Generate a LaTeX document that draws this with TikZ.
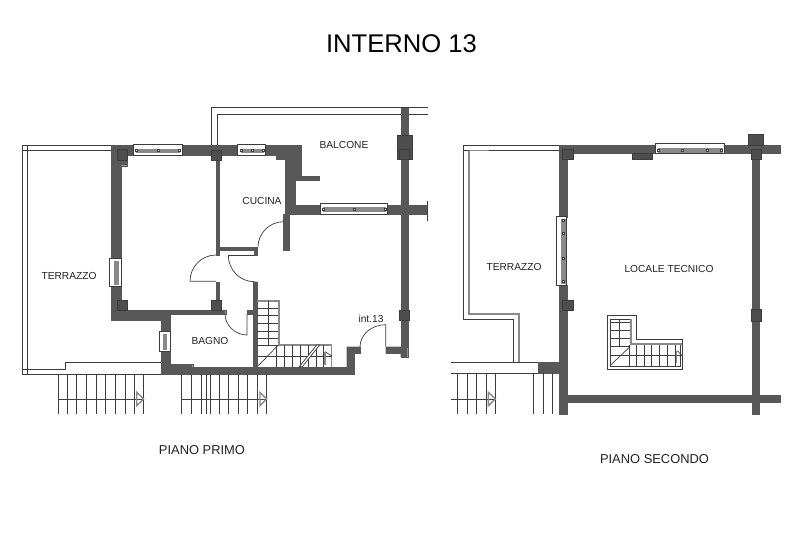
\documentclass[tikz,border=0pt]{standalone}
\usepackage{fontspec}
\setmainfont{Liberation Sans}
\tikzset{
x=1pt,
y=-1pt,
wallfill/.style={fill=wallgray, draw=wallgray, line width=0.3pt},
pillar/.style={fill=pillargray, draw=linegray, line width=0.4pt},
outline/.style={draw=linegray, line width=0.8pt},
railing/.style={draw=railgray, line width=1.4pt},
hairline/.style={draw=linegray, line width=0.7pt},
glass/.style={fill=white, draw=linegray, line width=0.7pt},
glassbar/.style={fill=railgray, draw=railgray, line width=0.4pt},
stud/.style={fill=white, draw=linegray, line width=0.4pt},
label/.style={text=textgray, font=\fontsize{10.2}{12}\selectfont, inner sep=0pt},
caption/.style={text=textgray, font=\fontsize{12.9}{15}\selectfont, inner sep=0pt},
}
\definecolor{wallgray}{HTML}{585858}
\definecolor{pillargray}{HTML}{4E4E4E}
\definecolor{linegray}{HTML}{3C3C3C}
\definecolor{railgray}{HTML}{8A8A8A}
\definecolor{textgray}{HTML}{222222}

\begin{document}
\begin{tikzpicture}
    \useasboundingbox (0,0) rectangle (800,533);

    \node[text=black, font=\fontsize{25.6}{28}\selectfont, inner sep=0pt] (title) at (401.5,44) {INTERNO 13};

    \draw[hairline] (111,145.7) -- (22.7,145.7) -- (22.7,374) -- (161,374);
    \draw[hairline] (111,150) -- (22.7,150);
    \draw[hairline] (27.3,145.7) -- (27.3,374);
    \draw[hairline] (22.7,369) -- (65,369) -- (65,362.3) -- (161,362.3);
    \draw[hairline] (211,145) -- (211,107.3) -- (428,107.3);
    \draw[hairline] (217,145) -- (217,114) -- (428,114);

    \fill[wallfill] (111,145) -- (301.3,145) -- (301.3,176) -- (319.3,176) -- (319.3,180.3) -- (295,180.3) -- (295,205) -- (427,205) -- (427,214.5) -- (289,214.5) -- (289,250) -- (283.3,250) -- (283.3,214.5) -- (285,214.5) -- (285,159.3) -- (276,159.3) -- (276,155) -- (127,155) -- (127,165.7) -- (121,165.7) -- (121,310) -- (225.7,310) -- (225.7,314) -- (170.3,314) -- (170.3,364) -- (192.7,364) -- (192.7,367.3) -- (253.3,367.3) -- (253.3,281.7) -- (257.3,281.7) -- (257.3,367.3) -- (346.7,367.3) -- (346.7,346.7) -- (360,346.7) -- (360,353.3) -- (354,353.3) -- (354,374) -- (161,374) -- (161,320) -- (111,320) -- cycle;
    \fill[wallfill] (401,108) rectangle (407.7,346.7);
    \fill[wallfill] (385.7,346.7) -- (407.7,346.7) -- (407.7,357.3) -- (400.7,357.3) -- (400.7,353.3) -- (385.7,353.3) -- cycle;
    \fill[wallfill] (215.7,155) rectangle (219.3,255);
    \fill[wallfill] (219.3,246.7) rectangle (257,250);
    \fill[wallfill] (253.7,250) rectangle (257,255);
    \fill[wallfill] (215.7,281.7) rectangle (219.3,300);
    \fill[wallfill] (247.3,310) rectangle (253.3,314);
    \foreach \xa/\ya/\xb/\yb in {116.7/149/127/160, 210.7/149.7/221/159.7, 396.7/135/411.7/159.3, 399/310/409/320, 116.7/300/126.7/310, 211/300/220.7/310} {
        \filldraw[pillar] (\xa,\ya) rectangle (\xb,\yb);
    }
    \draw[draw=linegray, line width=0.4pt] (399.3,149) rectangle (409,159.3);

    \foreach \xa/\ya/\xb/\yb/\xm in {133/144.7/182/155/158, 237.7/144.7/265.7/155/251.7, 320/203.5/387.7/214.5/354} {
        \draw[glass] (\xa,\ya) rectangle (\xb,\yb);
        \draw[glassbar] (\xa+3,\ya+4) rectangle (\xb-3,\ya+7.5);
        \foreach \xc in {\xa+3,\xm,\xb-3} {
            \draw[stud] (\xc-1,\ya+4.7) rectangle (\xc+1,\ya+6.7);
        }
    }
    \draw[glass] (109.3,258) rectangle (121.7,286.7);
    \draw[glassbar] (114.5,261) rectangle (118,283.7);
    \draw[glass] (159.3,331.7) rectangle (170,351.7);
    \draw[glassbar] (163.5,334) rectangle (166,349.5);
    \draw[draw=linegray, line width=0.4pt] (427,201) -- (427,221);

    \draw[hairline] (216,281.3) -- (190,281.3) .. controls (190,266.7) and (201.7,255) .. (216,255);
    \draw[hairline] (228.3,255) -- (254.3,255);
    \draw[hairline] (228.3,255) .. controls (228.3,270) and (240,281.7) .. (254.3,281.7);
    \draw[hairline] (258,246.7) .. controls (258,234) and (269,221.7) .. (283.3,221.7);
    \draw[hairline] (225,314) .. controls (225,325) and (235,335) .. (247,335) -- (247,314);
    \draw[hairline] (360,347) .. controls (360,334) and (372,324.7) .. (385.7,324.7) -- (385.7,346.7);

    \draw[railing] (257.3,301) -- (279,301) -- (279,345) -- (331.7,345) -- (331.7,367);
    \foreach \yc in {308.3,315.7,323.3,331,338.7} {
        \draw[hairline] (257.3,\yc) -- (278.3,\yc);
    }
    \draw[hairline] (268.3,301) -- (268.3,345);
    \draw[hairline] (257.3,345) -- (278.3,345);
    \draw[hairline] (258.3,365.7) -- (278.3,345);
    \foreach \xc in {276.7,284.7,292.3,300.7,308.3,316,323.3} {
        \draw[hairline] (\xc,345) -- (\xc,367);
    }
    \draw[hairline] (258,356) -- (331.7,356);
    \draw[fill=white, hairline] (299.3,366.7) -- (316.7,345) -- (319.7,345) -- (302.3,366.7) -- cycle;
    \draw[hairline] (325,351.7) -- (331.7,356);
    \draw[railing] (325,351.7) -- (325,365);

    \foreach \xc in {58.3,67.3,76.7,86.3,96,105.7,115.3,125,134,143.7, 181.7,191.3,201,206.7,210.7,219,228.3,238.3,247.7,257.3,266.7} {
        \draw[hairline] (\xc,374) -- (\xc,414);
    }
    \draw[hairline] (58.3,399) -- (143.7,399);
    \draw[hairline] (181.7,399) -- (266.7,399);
    \draw[railing] (136.7,392.3) -- (143.7,399) -- (136.7,405.7) -- cycle;
    \draw[railing] (260,392.3) -- (266.7,399) -- (260,405.7) -- cycle;

    \draw[hairline] (559,145) -- (463.3,145) -- (463.3,319.3) -- (513.3,319.3) -- (513.3,362.3);
    \draw[hairline] (463.3,150.3) -- (559,150.3);
    \draw[railing, line width=2pt] (468.7,150.5) -- (468.7,314) -- (518.5,314) -- (518.5,362.3);
    \draw[railing, line width=1.2pt] (468.7,150.8) -- (489,150.8);
    \draw[hairline] (450.7,362.3) -- (559,362.3);
    \draw[hairline] (450.7,373.3) -- (539,373.3);

    \foreach \xa/\ya/\xb/\yb in {559/145/780/153.3, 559/145/566.7/216.7, 558.7/285/566.7/414.3, 538.3/362.3/558.7/373.3, 558.7/395/780/401.7, 752.3/145/759.3/414} {
        \fill[wallfill] (\xa,\ya) rectangle (\xb,\yb);
    }
    \foreach \xa/\ya/\xb/\yb in {562.3/149/573/159.3, 631.7/153/652.3/159, 748.3/134.3/763.3/145, 562.3/300/573/310, 750.7/309.3/761/320.7} {
        \filldraw[pillar] (\xa,\ya) rectangle (\xb,\yb);
    }
    \filldraw[pillar] (750.7,149) rectangle (760.7,159.3);

    \draw[glass] (655.7,143.3) rectangle (724,153.3);
    \draw[glassbar] (658,148.5) rectangle (722,152);
    \foreach \xc in {658.3,682.3,706.7,721} {
        \draw[stud] (\xc-1,149) rectangle (\xc+1,151);
    }
    \draw[glass] (556.7,216.7) rectangle (566.7,285);
    \draw[glassbar] (561.3,219) rectangle (564.8,283);
    \foreach \yc in {220,233.3,257.7,281} {
        \draw[stud] (562,\yc-1) rectangle (564,\yc+1);
    }

    \foreach \xc in {457.7,467.3,476.7,486,495.3,533.3,543,552.7} {
        \draw[hairline] (\xc,373.3) -- (\xc,414.3);
    }
    \draw[hairline] (450.7,399) -- (495.3,399);
    \draw[railing] (488.3,392.3) -- (495.3,399) -- (488.3,405.7) -- cycle;

    \draw[hairline] (607.3,315.7) -- (636,315.7) -- (636,339.3) -- (682.7,339.3) -- (682.7,369) -- (607.3,369) -- cycle;
    \draw[hairline] (610,319) -- (631,319) -- (631,343.5) -- (680,343.5) -- (680,366) -- (610,366) -- cycle;
    \draw[railing, line width=2pt] (631.2,319) -- (631.2,344) -- (682,344);
    \foreach \yc in {322.7,330.7,338.3,346} {
        \draw[hairline] (610,\yc) -- (630,\yc);
    }
    \draw[hairline] (619.3,319) -- (619.3,346);
    \draw[hairline] (610.7,365) -- (630,346.7);
    \foreach \xc in {629.3,636.7,644.3,651.7,659,667.7,675} {
        \draw[hairline] (\xc,345) -- (\xc,366);
    }
    \draw[hairline] (610,355.7) -- (682,355.7);
    \draw[hairline] (677.3,350.7) -- (682,355.7);
    \draw[railing] (676.7,350.7) -- (676.7,363);

    \node[label] (terrazzoa) at (69,276) {TERRAZZO};
    \node[label] (balcone) at (344,145) {BALCONE};
    \node[label] (cucina) at (262,200.5) {CUCINA};
    \node[label] (bagno) at (210,341) {BAGNO};
    \node[label] (interno) at (371,319) {int.13};
    \node[label] (terrazzob) at (514,267) {TERRAZZO};
    \node[label] (locale) at (669,269) {LOCALE TECNICO};
    \node[caption] (primo) at (202,450) {PIANO PRIMO};
    \node[caption] (secondo) at (654.5,459) {PIANO SECONDO};
\end{tikzpicture}
\end{document}
